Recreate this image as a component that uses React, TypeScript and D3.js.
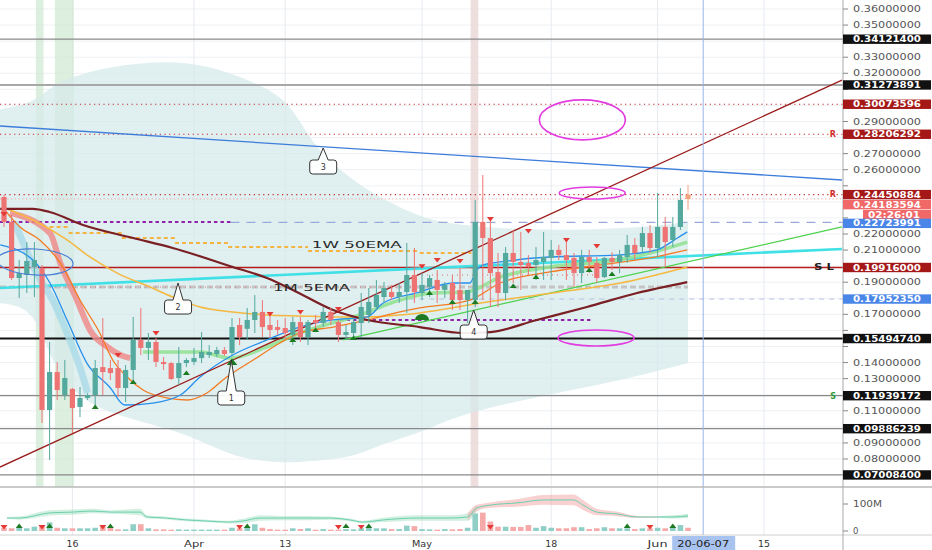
import * as d3 from "d3";

const START = Date.UTC(2020, 2, 7);
const DAY = 864e5;

// daily candles from Mar 7 2020: open, high, low, close
const ohlc: [number, number, number, number][] = [
  [0.2430, 0.2443, 0.2244, 0.2275], [0.2275, 0.2318, 0.1914, 0.1926], [0.1926, 0.2038, 0.1802, 0.1957],
  [0.1945, 0.2150, 0.1833, 0.2032], [0.1995, 0.2150, 0.1808, 0.2038], [0.1988, 0.2007, 0.1024, 0.1105],
  [0.1105, 0.1528, 0.0794, 0.1341], [0.1341, 0.1404, 0.1167, 0.1229], [0.1198, 0.1416, 0.1167, 0.1304],
  [0.1236, 0.1242, 0.0962, 0.1117], [0.1124, 0.1248, 0.1061, 0.1180], [0.1180, 0.1210, 0.1167, 0.1198],
  [0.1198, 0.1416, 0.1124, 0.1366], [0.1372, 0.1677, 0.1198, 0.1341], [0.1366, 0.1416, 0.1292, 0.1335],
  [0.1366, 0.1416, 0.1186, 0.1242], [0.1242, 0.1385, 0.1155, 0.1354], [0.1354, 0.1684, 0.1292, 0.1541],
  [0.1541, 0.1740, 0.1447, 0.1491], [0.1491, 0.1584, 0.1416, 0.1528], [0.1528, 0.1553, 0.1372, 0.1404],
  [0.1404, 0.1435, 0.1354, 0.1391], [0.1397, 0.1404, 0.1292, 0.1298], [0.1304, 0.1497, 0.1260, 0.1397],
  [0.1397, 0.1428, 0.1372, 0.1416], [0.1404, 0.1491, 0.1385, 0.1428], [0.1428, 0.1590, 0.1397, 0.1466],
  [0.1447, 0.1509, 0.1428, 0.1466], [0.1453, 0.1497, 0.1435, 0.1478], [0.1478, 0.1497, 0.1441, 0.1453],
  [0.1460, 0.1677, 0.1447, 0.1621], [0.1634, 0.1677, 0.1509, 0.1559], [0.1610, 0.1740, 0.1541, 0.1665],
  [0.1665, 0.1821, 0.1584, 0.1715], [0.1715, 0.1789, 0.1559, 0.1621], [0.1634, 0.1696, 0.1553, 0.1603],
  [0.1621, 0.1665, 0.1572, 0.1603], [0.1615, 0.1677, 0.1541, 0.1584], [0.1572, 0.1684, 0.1509, 0.1652],
  [0.1652, 0.1684, 0.1528, 0.1559], [0.1559, 0.1665, 0.1509, 0.1652], [0.1665, 0.1696, 0.1615, 0.1646],
  [0.1646, 0.1746, 0.1621, 0.1715], [0.1715, 0.1740, 0.1634, 0.1665], [0.1652, 0.1665, 0.1528, 0.1572],
  [0.1572, 0.1634, 0.1541, 0.1590], [0.1584, 0.1677, 0.1559, 0.1652], [0.1646, 0.1833, 0.1559, 0.1746],
  [0.1696, 0.1864, 0.1646, 0.1777], [0.1746, 0.1914, 0.1727, 0.1821], [0.1808, 0.1901, 0.1771, 0.1864],
  [0.1839, 0.1883, 0.1789, 0.1808], [0.1808, 0.1895, 0.1771, 0.1839], [0.1839, 0.2144, 0.1709, 0.1945],
  [0.1945, 0.2113, 0.1771, 0.1839], [0.1833, 0.1957, 0.1789, 0.1883], [0.1870, 0.1945, 0.1808, 0.1926],
  [0.1914, 0.1976, 0.1771, 0.1852], [0.1852, 0.1901, 0.1802, 0.1883], [0.1895, 0.1945, 0.1727, 0.1789],
  [0.1852, 0.1988, 0.1727, 0.1789], [0.1789, 0.1852, 0.1646, 0.1852], [0.1789, 0.2412, 0.1746, 0.2275],
  [0.2275, 0.2567, 0.1789, 0.2175], [0.2175, 0.2287, 0.1746, 0.1957], [0.1963, 0.2082, 0.1746, 0.1833],
  [0.1833, 0.2119, 0.1789, 0.2082], [0.2082, 0.2225, 0.1895, 0.2026], [0.2026, 0.2213, 0.1852, 0.2007],
  [0.2020, 0.2069, 0.1945, 0.1995], [0.2007, 0.2119, 0.1914, 0.2038], [0.2026, 0.2213, 0.1914, 0.2057],
  [0.2051, 0.2163, 0.1914, 0.2101], [0.2101, 0.2132, 0.2038, 0.2069], [0.2069, 0.2163, 0.1914, 0.2038],
  [0.2051, 0.2082, 0.1870, 0.1957], [0.1957, 0.2101, 0.1895, 0.2057], [0.2057, 0.2101, 0.1957, 0.2026],
  [0.2020, 0.2057, 0.1895, 0.1926], [0.1932, 0.2057, 0.1926, 0.2051], [0.2051, 0.2088, 0.1976, 0.2026],
  [0.2026, 0.2101, 0.1957, 0.2069], [0.2057, 0.2194, 0.2020, 0.2132], [0.2132, 0.2175, 0.2038, 0.2082],
  [0.2119, 0.2244, 0.2082, 0.2206], [0.2206, 0.2256, 0.2082, 0.2113], [0.2113, 0.2455, 0.2057, 0.2244],
  [0.2244, 0.2306, 0.1995, 0.2150], [0.2163, 0.2306, 0.2119, 0.2244], [0.2244, 0.2486, 0.2225, 0.2412],
  [0.2445, 0.2505, 0.2350, 0.2418],
];

// volume in millions
const volumes = [
  12, 10, 12, 10, 16, 22, 32, 12, 10, 10, 10, 10, 12, 16, 12, 6, 6, 25, 25, 10,
  6, 6, 5, 6, 5, 5, 5, 5, 5, 5, 12, 10, 16, 25, 12, 7, 5, 5, 10, 7,
  10, 5, 7, 5, 5, 7, 6, 10, 12, 10, 10, 7, 7, 20, 18, 7, 6, 5, 7, 6,
  7, 12, 65, 68, 35, 16, 16, 15, 15, 22, 12, 18, 12, 10, 10, 14, 14, 7, 10, 14,
  10, 10, 10, 7, 10, 10, 12, 10, 14, 22, 12,
];

// [day, value(M), band half width(M)]
const volumeAvg: [number, number, number][] = [
  [0.4, 48, 4], [2.1, 48, 6], [6, 67, 10], [9, 70, 10], [11.7, 74, 8], [14, 70, 6], [17.9, 70, 12],
  [18.8, 52, 6], [21.4, 48, 5], [24, 41, 5], [26.7, 37, 5], [29.7, 33, 5], [31.4, 37, 8], [33.7, 48, 10],
  [36.7, 48, 8], [39.9, 48, 8], [42.9, 48, 6], [45.5, 41, 5], [47.2, 33, 5], [49.9, 41, 8], [54.3, 48, 10],
  [58.7, 48, 10], [61, 52, 14], [62.2, 85, 12], [64, 96, 10], [67.5, 104, 14], [71, 115, 18], [74.9, 115, 20],
  [76.2, 96, 18], [78, 70, 12], [80.7, 63, 8], [83.3, 52, 4], [86, 52, 3], [88, 52, 6], [90, 56, 8],
];

// [day, upper, lower]
const cloud: [number, number, number][] = [
  [-1, 0.2972, 0.1771], [4, 0.3015, 0.1746], [6, 0.3115, 0.1416], [10, 0.3200, 0.1150], [17, 0.3264, 0.1043],
  [24, 0.3277, 0.0960], [30, 0.3202, 0.0815], [35, 0.3100, 0.0780], [38, 0.2990, 0.0778], [41, 0.2723, 0.0790],
  [46, 0.2530, 0.0810], [50, 0.2412, 0.0900], [55, 0.2300, 0.0965], [59, 0.2260, 0.1061], [68, 0.2225, 0.1167],
  [77, 0.2225, 0.1248], [85, 0.2244, 0.1335], [90, 0.2275, 0.1397],
];

const maBlue: [number, number][] = [
  [-0.5, 0.2132], [3.8, 0.2038], [6.05, 0.1895], [8.3, 0.1665], [10.9, 0.1397], [13.9, 0.1248], [15.9, 0.1136],
  [19.6, 0.1148], [23.2, 0.1198], [25.8, 0.1310], [30.1, 0.1447], [34.6, 0.1541], [38.9, 0.1621], [43.3, 0.1665],
  [47.8, 0.1684], [49.9, 0.1771], [54.3, 0.1833], [59.1, 0.1895], [61.3, 0.1895], [62.2, 0.1976], [63, 0.2007],
  [65.3, 0.2026], [71.8, 0.2057], [80.7, 0.2069], [85.9, 0.2101], [88.6, 0.2175], [89.9, 0.2213],
];
const maOrange: [number, number][] = [
  [0.1, 0.2349], [2.1, 0.2244], [4.7, 0.2163], [7.4, 0.2020], [10, 0.1789], [12.6, 0.1584], [14.3, 0.1416],
  [16.2, 0.1310], [18.3, 0.1229], [21.4, 0.1180], [24.1, 0.1167], [26.7, 0.1211], [29.3, 0.1310], [32.8, 0.1416],
  [36.3, 0.1522], [38.9, 0.1584], [43.3, 0.1621], [47.8, 0.1665], [52.1, 0.1715], [54.7, 0.1740], [61.3, 0.1789],
  [65.3, 0.1895], [71.8, 0.1964], [78.4, 0.2007], [85, 0.2051], [89.9, 0.2101],
];
const maYellow: [number, number][] = [
  [0.1, 0.2362], [3.8, 0.2287], [8.3, 0.2163], [11.3, 0.2057], [14.9, 0.1957], [19.2, 0.1870], [22.2, 0.1808],
  [25.8, 0.1746], [30.1, 0.1715], [34.6, 0.1696], [38.9, 0.1690], [43.3, 0.1684], [47.8, 0.1684], [52.1, 0.1696],
  [54.7, 0.1709], [63.6, 0.1777], [72.2, 0.1833], [81.1, 0.1895], [89.9, 0.1995],
];
const maLightGreen: [number, number][] = [
  [18.3, 0.1466], [25.8, 0.1466], [29.7, 0.1428], [34.6, 0.1497], [38.9, 0.1584], [46.8, 0.1696], [52.1, 0.1789],
  [56.4, 0.1833], [60.9, 0.1839], [65.3, 0.1932], [71.8, 0.1995], [80.7, 0.2038], [85, 0.2082], [89.9, 0.2150],
];
const monthEma: [number, number][] = [
  [-0.5, 0.2356], [3.8, 0.2356], [6, 0.2337], [10.4, 0.2256], [17, 0.2175], [22.2, 0.2113], [30.1, 0.1995],
  [34.6, 0.1926], [38, 0.1852], [43.3, 0.1727], [47.8, 0.1665], [54.7, 0.1621], [60.4, 0.1584], [64, 0.1590],
  [70.1, 0.1665], [76.7, 0.1746], [83.3, 0.1833], [89.9, 0.1901],
];
const ribbonRed: [number, number][] = [
  [0.8, 0.2331], [6.05, 0.2206], [7.4, 0.2020], [9.6, 0.1789], [11.3, 0.1603], [13.6, 0.1497], [15.3, 0.1447], [16.6, 0.1428],
];
const ribbonBlue: [number, number][] = [
  [1.4, 0.2275], [4.3, 0.1957], [6.4, 0.1789], [8.3, 0.1584], [10.4, 0.1310], [11, 0.1211],
];

// weekly 50 EMA steps: [start day, value], ends at day 61.5
const weeklyEma: [number, number][] = [
  [6, 0.2244], [8.5, 0.2206], [15.5, 0.2175], [22.5, 0.2144], [29.5, 0.2119], [40, 0.2094], [54.7, 0.2082],
];
const weeklyEmaEnd = 61.5;

const trendRed: [number, number][] = [[-0.53, 0.0750], [110.26, 0.3158]];
const trendBlue: [number, number][] = [[-0.53, 0.2872], [110.26, 0.2536]];
const trendCyan: [number, number][] = [[-0.53, 0.1864], [110.26, 0.2107]];
const trendGreen: [number, number][] = [[44.6, 0.1541], [110.26, 0.2244]];

const grayLevels = [0.341214, 0.31273891, 0.11939172, 0.09886239, 0.070084];
const resistLevels = [0.30073596, 0.28206292, 0.24450884];
const stopLevel = 0.19916;
const supportLevel = 0.1549474;
const blueLevels = [0.22723991, 0.1795235];
const lastPrice = 0.24183594;
const countdown = "02:26:01";
const monthEmaLevel = 0.187;
const purpleLevels: [number, number, number][] = [[0.2275, -0.6, 29.8], [0.1665, 44.2, 77.4]];

const sellSignals: [number, number][] = [
  [0, 0.2325], [15, 0.1447], [20, 0.1584], [35, 0.1702], [39, 0.1715], [44, 0.1733], [55, 0.2], [57, 0.2038],
  [60, 0.2032], [64, 0.2294], [69, 0.2219], [74, 0.2163], [78, 0.2125],
];
const buySignals: [number, number][] = [
  [12, 0.1124], [17, 0.1279], [24, 0.1335], [30, 0.1404], [38, 0.1541], [41, 0.1603], [46, 0.1553], [56, 0.1833],
  [59, 0.1777], [62, 0.1777], [67, 0.1877], [70, 0.1932], [77, 0.1976], [80, 0.1951],
];
const bigBuy: [number, number] = [55, 0.1684];
const volSellDays = [0, 5, 13, 31, 44, 47, 64, 85];
const volBuyDays = [2, 6, 14, 32, 45, 48, 82, 88];

const callouts: { label: string; d: number; p: number }[] = [
  { label: "1", d: 29.9, p: 0.1416 },
  { label: "2", d: 22.9, p: 0.1895 },
  { label: "3", d: 42, p: 0.2735 },
  { label: "4", d: 61.8, p: 0.1727 },
];
const markings: [number, number][] = [[76.1, 0.291], [77.4, 0.2455], [77.9, 0.1553]];
const blueMarking: [number, number] = [4.1, 0.2026];

const greenBands: [number, number][] = [[4.2, 5.2], [6.7, 9.2]];
const redBands: [number, number][] = [[61.4, 62.4]];

const tickDates = ["2020-03-16", "2020-04-01", "2020-04-13", "2020-05-01", "2020-05-18", "2020-06-01", "2020-06-15"];
const tickLabels = ["16", "Apr", "13", "May", "18", "Jun", "15"];
const cursorDate = "2020-06-07";
const cursorLabel = "20-06-07";

const W = 932;
const H = 550;
const AX = 843;
const MAIN_B = 487;
const VOL_B = 535;
const FONT = "DejaVu Sans";
const GREEN = "#53a99d";
const RED = "#ee7474";

const x = d3.scaleUtc().domain([new Date(START), new Date(Date.UTC(2020, 5, 15))]).range([4, 764]);
const xd = (d: number) => x(new Date(START + d * DAY));
const y = d3.scaleLinear().domain([0.08, 0.36]).range([459, 9]);
const yv = d3.scaleLinear().domain([0, 100]).range([531, 504]);
const fmt = d3.format(".8f");

const smooth = d3.line<[number, number]>().x((d) => xd(d[0])).y((d) => y(d[1])).curve(d3.curveMonotoneX);
const straight = d3.line<[number, number]>().x((d) => xd(d[0])).y((d) => y(d[1]));
const cloudArea = d3.area<[number, number, number]>()
  .x((d) => xd(d[0])).y0((d) => y(d[2])).y1((d) => y(d[1])).curve(d3.curveBasis);
const volLine = d3.line<[number, number, number]>().x((d) => xd(d[0])).y((d) => yv(d[1])).curve(d3.curveMonotoneX);
const volBand = d3.area<[number, number, number]>()
  .x((d) => xd(d[0])).y0((d) => yv(d[1] - d[2])).y1((d) => yv(d[1] + d[2])).curve(d3.curveMonotoneX);

const priceTicks = d3.range(8, 37).map((k) => k / 100);

const stemLen: Record<string, number> = { "1": 31, "2": 17, "3": 12, "4": 15 };
const markingSize: [number, number][] = [[43, 20], [33, 6], [38, 8]];

function calloutPath(tx: number, ty: number, stem: number) {
  const w = 27, h = 14, r = 3;
  const top = ty + stem, left = tx - w / 2, right = tx + w / 2, bottom = top + h;
  return `M${left + r},${top} L${tx - 5},${top} L${tx},${ty} L${tx + 5},${top} L${right - r},${top}` +
    ` Q${right},${top} ${right},${top + r} L${right},${bottom - r} Q${right},${bottom} ${right - r},${bottom}` +
    ` L${left + r},${bottom} Q${left},${bottom} ${left},${bottom - r} L${left},${top + r} Q${left},${top} ${left + r},${top} Z`;
}

const downTri = (cx: number, cy: number, s = 1) =>
  `M${cx - 3.5 * s},${cy - 2 * s} L${cx + 3.5 * s},${cy - 2 * s} L${cx},${cy + 2.5 * s} Z`;
const upTri = (cx: number, cy: number, s = 1) =>
  `M${cx - 3.5 * s},${cy + 2 * s} L${cx + 3.5 * s},${cy + 2 * s} L${cx},${cy - 2.5 * s} Z`;

function PriceBox({ yy, text, fill }: { yy: number; text: string; fill: string }) {
  return (
    <g>
      <rect x={AX} y={yy - 4.7} width={W - 1 - AX} height={9.4} fill={fill} />
      <text x={853} y={yy} dy="0.36em" fontSize={8.5} fontWeight="bold"
        fill="#fff" textLength={68} lengthAdjust="spacingAndGlyphs">{text}</text>
    </g>
  );
}

export default function App() {
  const lastBoxY = y(resistLevels[2]) + 10;
  const countBoxY = lastBoxY + 10;
  const boxYs = [...grayLevels, ...resistLevels, stopLevel, supportLevel, ...blueLevels].map((p) => y(p))
    .concat([lastBoxY, countBoxY]);
  // tick labels that would sit under a price box are hidden, as on the axis
  const visibleTicks = priceTicks.filter((p) => boxYs.every((b) => Math.abs(b - y(p)) > 9.5));
  const volRed = volumeAvg.filter((d) => d[0] >= 61 && d[0] <= 86.5);
  const volGreenA = volumeAvg.filter((d) => d[0] <= 62.2);
  const volGreenB = volumeAvg.filter((d) => d[0] >= 86);

  return (
    <svg width={W} height={H} style={{ position: "absolute", left: 0, top: 0, fontFamily: FONT }}>
      <defs>
        <clipPath id="mainClip"><rect x={0} y={0} width={AX} height={MAIN_B} /></clipPath>
        <clipPath id="volClip"><rect x={0} y={MAIN_B + 1} width={AX} height={VOL_B - MAIN_B - 1} /></clipPath>
      </defs>
      <rect width={W} height={H} fill="#fff" />

      <g clipPath="url(#mainClip)">
        {priceTicks.map((p) => (
          <line key={p} x1={0} x2={AX} y1={y(p)} y2={y(p)} stroke="#eef1f5" />
        ))}
        {tickDates.map((t) => (
          <line key={t} x1={x(new Date(t))} x2={x(new Date(t))} y1={0} y2={MAIN_B} stroke="#e6eaf0" />
        ))}
        {greenBands.map((b, i) => (
          <rect key={i} x={xd(b[0])} y={0} width={xd(b[1]) - xd(b[0])} height={MAIN_B} fill="#cfe8d0" opacity={0.7} />
        ))}
        {redBands.map((b, i) => (
          <rect key={i} x={xd(b[0])} y={0} width={xd(b[1]) - xd(b[0])} height={MAIN_B} fill="#ead6d6" opacity={0.8} />
        ))}

        <path d={cloudArea(cloud) ?? ""} fill="#d5e9e9" opacity={0.75} />

        {grayLevels.map((p, i) => (
          <line key={p} x1={0} x2={AX} y1={y(p)} y2={y(p)} stroke={i === 1 ? "#a8a8a8" : "#8a8a8a"} strokeWidth={i === 1 ? 2 : 1.2} />
        ))}
        {resistLevels.map((p) => (
          <line key={p} x1={0} x2={AX} y1={y(p)} y2={y(p)} stroke="#c62828" strokeWidth={1.2} strokeDasharray="1.2 3.5" />
        ))}
        <line x1={0} x2={AX} y1={y(lastPrice)} y2={y(lastPrice)} stroke="#f3a3a3" strokeWidth={1} strokeDasharray="1.2 2.5" />
        <line x1={xd(purpleLevels[0][2])} x2={AX} y1={y(blueLevels[0])} y2={y(blueLevels[0])} stroke="#9aaad8" strokeWidth={1.2} strokeDasharray="9 7" />
        <line x1={xd(52)} x2={AX} y1={y(blueLevels[1])} y2={y(blueLevels[1])} stroke="#b8c3e3" strokeWidth={1} strokeDasharray="5 5" />
        {purpleLevels.map((l, i) => (
          <line key={i} x1={xd(l[1])} x2={xd(l[2])} y1={y(l[0])} y2={y(l[0])} stroke="#8e24aa" strokeWidth={2} strokeDasharray="3.5 3" />
        ))}
        <line x1={0} x2={xd(90)} y1={y(monthEmaLevel)} y2={y(monthEmaLevel)} stroke="#c4c4c4" strokeWidth={3} strokeDasharray="6 3" />
        <line x1={0} x2={xd(55)} y1={y(monthEmaLevel)} y2={y(monthEmaLevel)} stroke="#e07a8a" strokeWidth={1} strokeDasharray="1 4" />
        <line x1={xd(55)} x2={xd(78)} y1={y(0.1945)} y2={y(0.1945)} stroke="#e06a6a" strokeWidth={1} strokeDasharray="1 4" />
        {weeklyEma.map((s, i) => {
          const end = i < weeklyEma.length - 1 ? weeklyEma[i + 1][0] : weeklyEmaEnd;
          return <line key={i} x1={xd(s[0])} x2={xd(end)} y1={y(s[1])} y2={y(s[1])} stroke="#f5b342" strokeWidth={2} strokeDasharray="4 3" />;
        })}

        <line x1={0} x2={AX} y1={y(stopLevel)} y2={y(stopLevel)} stroke="#b71c1c" strokeWidth={1.6} />
        <line x1={0} x2={AX} y1={y(supportLevel)} y2={y(supportLevel)} stroke="#111" strokeWidth={2} />

        <path d={straight(trendBlue) ?? ""} fill="none" stroke="#3d7ddb" strokeWidth={1.3} />
        <path d={straight(trendCyan) ?? ""} fill="none" stroke="#3fe0e6" strokeWidth={2.6} />
        <path d={straight(trendGreen) ?? ""} fill="none" stroke="#4dd24d" strokeWidth={1.2} />

        <path d={smooth(ribbonBlue) ?? ""} fill="none" stroke="#a9dbe8" strokeWidth={7} opacity={0.8} />
        <path d={smooth(ribbonRed) ?? ""} fill="none" stroke="#ef8c8c" strokeWidth={6} opacity={0.85} />
        <path d={smooth(maLightGreen) ?? ""} fill="none" stroke="#93e293" strokeWidth={3.5} opacity={0.9} />
        <path d={smooth(maYellow) ?? ""} fill="none" stroke="#f5b841" strokeWidth={1.5} />
        <path d={smooth(maOrange) ?? ""} fill="none" stroke="#f47b22" strokeWidth={1.3} />
        <path d={smooth(maBlue) ?? ""} fill="none" stroke="#2790ee" strokeWidth={1.3} />
        <path d={smooth(monthEma) ?? ""} fill="none" stroke="#7a1f24" strokeWidth={2.2} />
        <path d={straight(trendRed) ?? ""} fill="none" stroke="#9b1b1b" strokeWidth={1.3} />

        {ohlc.map(([o, h, l, c], i) => {
          const up = c >= o;
          const last = i === ohlc.length - 1;
          const col = last ? "#f3a27e" : up ? GREEN : RED;
          const cx = xd(i);
          const top = y(Math.max(o, c));
          return (
            <g key={i}>
              <line x1={cx} x2={cx} y1={y(h)} y2={y(l)} stroke={col} strokeWidth={1} />
              <rect x={cx - 2.6} y={top} width={5.2} height={Math.max(1, y(Math.min(o, c)) - top)} fill={col} />
            </g>
          );
        })}

        {sellSignals.map(([d, p], i) => (
          <path key={i} d={downTri(xd(d), y(p))} fill="#e53935" />
        ))}
        {buySignals.map(([d, p], i) => (
          <path key={i} d={upTri(xd(d), y(p), d === 30 ? 1.5 : 1)} fill="#1d7a22" />
        ))}
        <path d={`M${xd(bigBuy[0]) - 7},${y(bigBuy[1]) + 3} A7 6 0 0 1 ${xd(bigBuy[0]) + 7},${y(bigBuy[1]) + 3} Z`} fill="#1d7a22" />

        {markings.map(([d, p], i) => (
          <ellipse key={i} cx={xd(d)} cy={y(p)} rx={markingSize[i][0]} ry={markingSize[i][1]} fill="none" stroke="#e23be0" strokeWidth={1.6} />
        ))}
        <ellipse cx={xd(blueMarking[0])} cy={y(blueMarking[1])} rx={38} ry={13} fill="none" stroke="#4a7fd6" strokeWidth={1.2}
          transform={`rotate(3 ${xd(blueMarking[0])} ${y(blueMarking[1])})`} />

        {callouts.map((c) => {
          const tx = xd(c.d), ty = y(c.p), s = stemLen[c.label];
          return (
            <g key={c.label}>
              <path d={calloutPath(tx, ty, s)} fill="#fff" fillOpacity={0.92} stroke="#333" strokeWidth={1} />
              <text x={tx} y={ty + s + 7} dy="0.35em" textAnchor="middle" fontSize={8} fill="#333">{c.label}</text>
            </g>
          );
        })}

        <text x={xd(40.5)} y={y(0.2132)} dy="0.36em" fontSize={9.5} fill="#2a2a2a" textLength={90} lengthAdjust="spacingAndGlyphs">1W  50EMA</text>
        <text x={xd(35.4)} y={y(0.1864)} dy="0.36em" fontSize={9.5} fill="#2a2a2a" textLength={77} lengthAdjust="spacingAndGlyphs">1M  5EMA</text>

        <text x={836} y={y(resistLevels[1])} dy="0.36em" textAnchor="end" fontSize={8} fontWeight="bold" fill="#d32f2f">R</text>
        <text x={836} y={y(resistLevels[2])} dy="0.36em" textAnchor="end" fontSize={8} fontWeight="bold" fill="#d32f2f">R</text>
        <text x={834} y={y(stopLevel)} dy="0.36em" textAnchor="end" fontSize={8} fontWeight="bold" fill="#222" textLength={20} lengthAdjust="spacingAndGlyphs">S  L</text>
        <text x={836} y={y(grayLevels[2])} dy="0.36em" textAnchor="end" fontSize={8} fontWeight="bold" fill="#2e9a3a">S</text>
      </g>

      {/* volume pane */}
      <g clipPath="url(#volClip)">
        {tickDates.map((t) => (
          <line key={t} x1={x(new Date(t))} x2={x(new Date(t))} y1={MAIN_B} y2={VOL_B} stroke="#e6eaf0" />
        ))}
        <path d={volBand(volGreenA) ?? ""} fill="#7fd3a8" opacity={0.35} />
        <path d={volBand(volRed) ?? ""} fill="#f29a9a" opacity={0.45} />
        <path d={volBand(volGreenB) ?? ""} fill="#7fd3a8" opacity={0.4} />
        <path d={volLine(volumeAvg) ?? ""} fill="none" stroke="#6ccfae" strokeWidth={1} />
        {volumes.map((v, i) => {
          const [o, , , c] = ohlc[i];
          return (
            <rect key={i} x={xd(i) - 2.8} y={yv(v)} width={5.6} height={yv(0) - yv(v)}
              fill={c >= o ? "#8fcfc5" : "#f5a9a9"} />
          );
        })}
        {volSellDays.map((d) => <path key={d} d={downTri(xd(d), 527)} fill="#e53935" />)}
        {volBuyDays.map((d) => <path key={d} d={upTri(xd(d), 526)} fill="#1d7a22" />)}
      </g>

      {/* crosshair */}
      <line x1={x(new Date(cursorDate))} x2={x(new Date(cursorDate))} y1={0} y2={VOL_B} stroke="#9ab4e6" strokeWidth={1} />

      {/* frames */}
      <line x1={0} x2={W} y1={MAIN_B} y2={MAIN_B} stroke="#b8b8b8" strokeWidth={1.5} />
      <line x1={0} x2={W} y1={VOL_B} y2={VOL_B} stroke="#cfcfcf" strokeWidth={1} />
      <line x1={AX} x2={AX} y1={0} y2={H} stroke="#a9a9a9" strokeWidth={1} />

      {/* price axis */}
      {priceTicks.map((p) => (
        <line key={p} x1={AX} x2={AX + 5} y1={y(p)} y2={y(p)} stroke="#888" />
      ))}
      {visibleTicks.map((p) => (
        <text key={p} x={853} y={y(p)} dy="0.36em" fontSize={8.5} fill="#555" textLength={68} lengthAdjust="spacingAndGlyphs">{fmt(p)}</text>
      ))}
      <line x1={AX} x2={AX + 5} y1={yv(100)} y2={yv(100)} stroke="#888" />
      <text x={853} y={yv(100)} dy="0.36em" fontSize={8.5} fill="#555" textLength={29} lengthAdjust="spacingAndGlyphs">100M</text>
      <line x1={AX} x2={AX + 5} y1={yv(0)} y2={yv(0)} stroke="#888" />
      <text x={853} y={yv(0)} dy="0.36em" fontSize={8.5} fill="#555">0</text>

      {grayLevels.map((p) => <PriceBox key={p} yy={y(p)} text={fmt(p)} fill="#111" />)}
      {resistLevels.map((p) => <PriceBox key={p} yy={y(p)} text={fmt(p)} fill="#a51818" />)}
      <PriceBox yy={y(stopLevel)} text={fmt(stopLevel)} fill="#a51818" />
      <PriceBox yy={y(supportLevel)} text={fmt(supportLevel)} fill="#111" />
      <PriceBox yy={y(blueLevels[1])} text={fmt(blueLevels[1])} fill="#4a86e8" />
      <PriceBox yy={lastBoxY} text={fmt(lastPrice)} fill="#f06868" />
      <g>
        <rect x={863} y={countBoxY - 4.7} width={W - 1 - 863} height={9.4} fill="#f06868" />
        <text x={868} y={countBoxY} dy="0.36em" fontSize={8.5} fontWeight="bold" fill="#fff" textLength={52} lengthAdjust="spacingAndGlyphs">{countdown}</text>
      </g>
      <PriceBox yy={y(blueLevels[0]) + 1} text={fmt(blueLevels[0])} fill="#4a86e8" />

      {/* time axis */}
      {tickDates.map((t, i) => (
        <text key={t} x={x(new Date(t))} y={543.5} dy="0.36em" textAnchor="middle" fontSize={8.5} fill="#333"
          textLength={tickLabels[i].length === 2 ? 12 : 20} lengthAdjust="spacingAndGlyphs">{tickLabels[i]}</text>
      ))}
      <rect x={x(new Date(cursorDate)) - 31} y={VOL_B + 1} width={63} height={H - VOL_B - 1} fill="#a9c3f0" />
      <text x={x(new Date(cursorDate))} y={543.5} dy="0.36em" textAnchor="middle" fontSize={8.5} fill="#222"
        textLength={52} lengthAdjust="spacingAndGlyphs">{cursorLabel}</text>
    </svg>
  );
}
